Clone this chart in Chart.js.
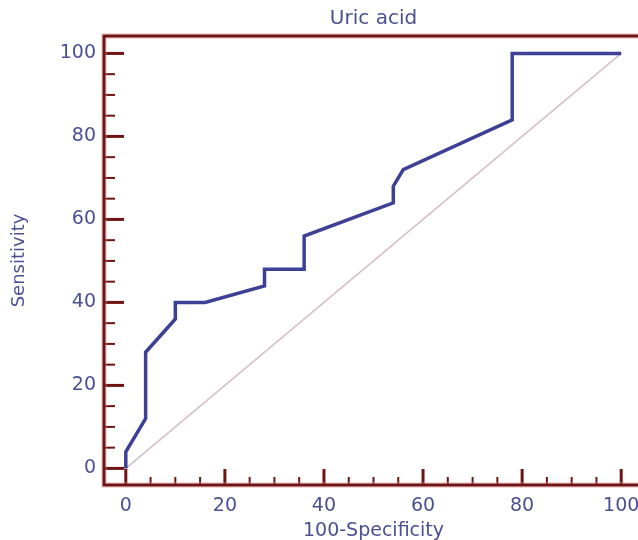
<!DOCTYPE html>
<html>
<head>
<meta charset="utf-8">
<script src="https://cdn.jsdelivr.net/npm/chart.js@4"></script>
<style>
  html, body { margin: 0; padding: 0; background: #fff; overflow: hidden; }
  canvas { display: block; }
</style>
</head>
<body>
<canvas id="rocChart" width="746" height="540"></canvas>
<script>
// ROC curve points (100-Specificity, Sensitivity)
const specComplement = [0, 0, 4, 4, 10, 10, 16, 28, 28, 36, 36, 54, 54, 56, 78, 78, 100];
const sensitivity = [0, 4, 12, 28, 36, 40, 40, 44, 48, 48, 56, 64, 68, 72, 84, 100, 100];
// reference diagonal
const diagX = [0, 100];
const diagY = [0, 100];
// tick values
const majorTicks = [0, 20, 40, 60, 80, 100];
const minorTicks = [5, 10, 15, 25, 30, 35, 45, 50, 55, 65, 70, 75, 85, 90, 95];

const axisColor = '#6e1414';
const labelColor = '#4b5092';
const fontFamily = '"DejaVu Sans", sans-serif';

const framePlugin = {
    id: 'frame',
    beforeDatasetsDraw(chart) {
        const ctx = chart.ctx;
        const area = chart.chartArea;
        const xs = chart.scales.x;
        const ys = chart.scales.y;
        ctx.save();
        ctx.lineCap = 'butt';

        function tick(x1, y1, x2, y2, w) {
            ctx.lineWidth = w;
            ctx.beginPath();
            ctx.moveTo(x1, y1);
            ctx.lineTo(x2, y2);
            ctx.stroke();
        }

        ctx.strokeStyle = axisColor;
        majorTicks.forEach(v => {
            const px = xs.getPixelForValue(v);
            tick(px, area.bottom, px, area.bottom - 16, 3);
            const py = ys.getPixelForValue(v);
            tick(area.left, py, area.left + 20, py, 3);
        });
        minorTicks.forEach(v => {
            const px = xs.getPixelForValue(v);
            tick(px, area.bottom, px, area.bottom - 8, 2);
            const py = ys.getPixelForValue(v);
            tick(area.left, py, area.left + 11, py, 2);
        });

        // soft halo then frame
        ctx.strokeStyle = 'rgba(230,150,150,0.35)';
        ctx.lineWidth = 6;
        ctx.strokeRect(area.left, area.top, area.right - area.left, area.bottom - area.top);
        ctx.strokeStyle = axisColor;
        ctx.lineWidth = 3;
        ctx.strokeRect(area.left, area.top, area.right - area.left, area.bottom - area.top);
        ctx.restore();
    }
};

function drawRocChart() {
    const ctx = document.getElementById('rocChart').getContext('2d');
    new Chart(ctx, {
        type: 'scatter',
        data: {
            datasets: [{
                data: specComplement.map((x, i) => ({ x: x, y: sensitivity[i] })),
                showLine: true,
                borderColor: '#3d4196',
                borderWidth: 3.5,
                pointRadius: 0,
                tension: 0,
                order: 1
            }, {
                data: diagX.map((x, i) => ({ x: x, y: diagY[i] })),
                showLine: true,
                borderColor: '#d2bfc5',
                borderWidth: 1.5,
                pointRadius: 0,
                order: 2
            }]
        },
        options: {
            responsive: false,
            animation: false,
            layout: { padding: { right: 103 } },
            plugins: {
                legend: { display: false },
                tooltip: { enabled: false },
                title: {
                    display: true,
                    text: 'Uric acid',
                    fullSize: false,
                    color: labelColor,
                    font: { family: fontFamily, size: 20, weight: 'normal', lineHeight: 1.2 },
                    padding: { top: 7, bottom: 5 }
                }
            },
            scales: {
                x: {
                    type: 'linear',
                    min: -4.4,
                    max: 104.4,
                    grid: { display: false, drawTicks: false },
                    border: { display: false },
                    afterBuildTicks: scale => { scale.ticks = majorTicks.map(v => ({ value: v })); },
                    afterFit: scale => { scale.height = 55; },
                    ticks: {
                        color: labelColor,
                        padding: 10,
                        maxRotation: 0,
                        font: { family: fontFamily, size: 19 }
                    },
                    title: {
                        display: true,
                        text: '100-Specificity',
                        color: labelColor,
                        font: { family: fontFamily, size: 19, lineHeight: 1 },
                        padding: { top: 0, bottom: -1 }
                    }
                },
                y: {
                    type: 'linear',
                    min: -4,
                    max: 104.2,
                    grid: { display: false, drawTicks: false },
                    border: { display: false },
                    afterBuildTicks: scale => { scale.ticks = majorTicks.map(v => ({ value: v })); },
                    afterFit: scale => { scale.width = 104; },
                    ticks: {
                        color: labelColor,
                        padding: 8,
                        font: { family: fontFamily, size: 19 }
                    },
                    title: {
                        display: true,
                        text: 'Sensitivity',
                        color: labelColor,
                        font: { family: fontFamily, size: 18, lineHeight: 1.2 },
                        padding: { top: 9, bottom: 0 }
                    }
                }
            }
        },
        plugins: [framePlugin]
    });
}

drawRocChart();
</script>
</body>
</html>
